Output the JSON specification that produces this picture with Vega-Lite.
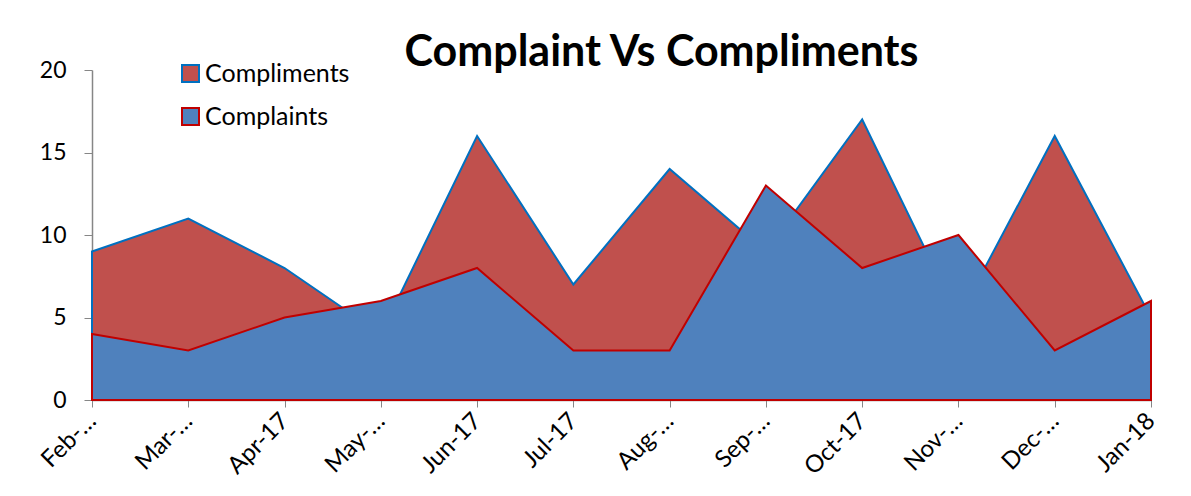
{
  "$schema": "https://vega.github.io/schema/vega-lite/v6.json",
  "width": 1059,
  "height": 330,
  "autosize": {"type": "none"},
  "padding": {"left": 92, "top": 70, "right": 40, "bottom": 96},
  "background": "white",
  "title": {
    "text": "Complaint Vs Compliments",
    "font": "Lato",
    "fontSize": 43,
    "fontWeight": "bold",
    "color": "black",
    "anchor": "middle",
    "dx": 40,
    "offset": -16
  },
  "data": {
    "values": [
      {"month": "Feb-17", "series": "Compliments", "value": 9},
      {"month": "Mar-17", "series": "Compliments", "value": 11},
      {"month": "Apr-17", "series": "Compliments", "value": 8},
      {"month": "May-17", "series": "Compliments", "value": 4},
      {"month": "Jun-17", "series": "Compliments", "value": 16},
      {"month": "Jul-17", "series": "Compliments", "value": 7},
      {"month": "Aug-17", "series": "Compliments", "value": 14},
      {"month": "Sep-17", "series": "Compliments", "value": 9},
      {"month": "Oct-17", "series": "Compliments", "value": 17},
      {"month": "Nov-17", "series": "Compliments", "value": 5},
      {"month": "Dec-17", "series": "Compliments", "value": 16},
      {"month": "Jan-18", "series": "Compliments", "value": 5},
      {"month": "Feb-17", "series": "Complaints", "value": 4},
      {"month": "Mar-17", "series": "Complaints", "value": 3},
      {"month": "Apr-17", "series": "Complaints", "value": 5},
      {"month": "May-17", "series": "Complaints", "value": 6},
      {"month": "Jun-17", "series": "Complaints", "value": 8},
      {"month": "Jul-17", "series": "Complaints", "value": 3},
      {"month": "Aug-17", "series": "Complaints", "value": 3},
      {"month": "Sep-17", "series": "Complaints", "value": 13},
      {"month": "Oct-17", "series": "Complaints", "value": 8},
      {"month": "Nov-17", "series": "Complaints", "value": 10},
      {"month": "Dec-17", "series": "Complaints", "value": 3},
      {"month": "Jan-18", "series": "Complaints", "value": 6}
    ]
  },
  "encoding": {
    "x": {
      "field": "month",
      "type": "ordinal",
      "sort": null,
      "scale": {"type": "point", "padding": 0},
      "axis": {
        "title": null,
        "labelAngle": -45,
        "labelAlign": "right",
        "labelBaseline": "middle",
        "labelFont": "Lato",
        "labelFontSize": 24,
        "labelColor": "black",
        "labelPadding": 10,
        "tickSize": 7,
        "tickColor": "#868686",
        "domainColor": "#868686",
        "domainWidth": 1.5,
        "grid": false,
        "labelExpr": "indexof(['Apr-17','Jun-17','Jul-17','Oct-17','Jan-18'], datum.value) >= 0 ? datum.value : slice(datum.value, 0, 4) + '…'"
      }
    },
    "y": {
      "field": "value",
      "type": "quantitative",
      "stack": null,
      "scale": {"domain": [0, 20], "nice": false},
      "axis": {
        "title": null,
        "values": [0, 5, 10, 15, 20],
        "labelFont": "Lato",
        "labelFontSize": 23,
        "labelColor": "black",
        "labelPadding": 18,
        "tickSize": 8,
        "tickColor": "#868686",
        "domainColor": "#868686",
        "domainWidth": 1.5,
        "grid": false
      }
    },
    "fill": {
      "field": "series",
      "type": "nominal",
      "scale": {"domain": ["Compliments", "Complaints"], "range": ["#C0504D", "#4F81BD"]},
      "legend": {
        "title": null,
        "orient": "none",
        "legendX": 86,
        "legendY": -9,
        "symbolType": "square",
        "symbolSize": 289,
        "symbolStrokeWidth": 2,
        "labelFont": "Lato",
        "labelFontSize": 25,
        "labelColor": "black",
        "labelOffset": 2,
        "rowPadding": 17,
        "padding": 0
      }
    },
    "stroke": {
      "field": "series",
      "type": "nominal",
      "scale": {"domain": ["Compliments", "Complaints"], "range": ["#0070C0", "#C00000"]},
      "legend": {
        "title": null,
        "orient": "none",
        "legendX": 86,
        "legendY": -9,
        "symbolType": "square",
        "symbolSize": 289,
        "symbolStrokeWidth": 2,
        "labelFont": "Lato",
        "labelFontSize": 25,
        "labelColor": "black",
        "labelOffset": 2,
        "rowPadding": 17,
        "padding": 0
      }
    }
  },
  "layer": [
    {
      "transform": [{"filter": "datum.series === 'Compliments'"}],
      "mark": {"type": "area", "opacity": 1, "fillOpacity": 1, "strokeWidth": 2}
    },
    {
      "transform": [{"filter": "datum.series === 'Complaints'"}],
      "mark": {"type": "area", "opacity": 1, "fillOpacity": 1, "strokeWidth": 2}
    }
  ],
  "config": {"view": {"stroke": null}}
}
